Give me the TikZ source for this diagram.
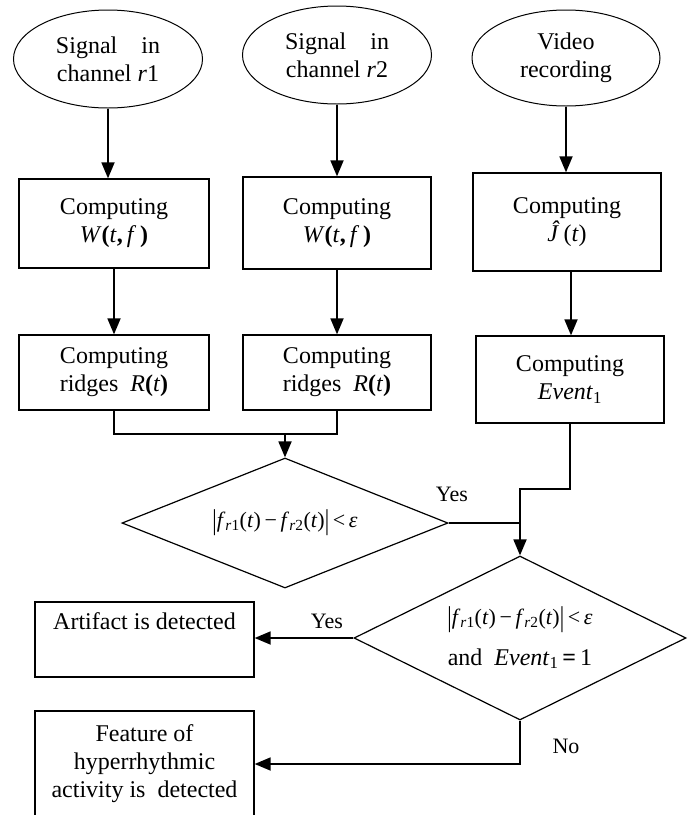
\documentclass[tikz,border=0pt]{standalone}
\usepackage{fontspec}
\usepackage{graphicx}
\setmainfont{Liberation Serif}
\usetikzlibrary{shapes.geometric,arrows.meta}

% tall absolute-value bar and f_{r#1}(t) written with text glyphs
\newcommand\tallbar{\raisebox{-0.12em}{\scalebox{1}[1.3]{\textbar}}}
\newcommand\fsig[1]{\textit{f}\textsubscript{\textit{r}#1}(\textit{t})}
\newcommand\fdiff{\tallbar\fsig{1}\,−\,\fsig{2}\tallbar\,<\,\textit{ε}}

\tikzset{
  base/.style={font=\fontsize{24}{28}\selectfont, align=center, inner sep=0pt, text=black},
  oval/.style={base, ellipse, draw, line width=1pt, minimum width=189pt, minimum height=98pt},
  procbox/.style={base, rectangle, draw, line width=1.3pt},
  decision/.style={base, diamond, draw, line width=1.2pt},
  flow/.style={line width=1.8pt, -{Triangle[length=16pt,width=13pt]}},
  link/.style={line width=1.8pt},
  lbl/.style={font=\fontsize{22}{26}\selectfont, inner sep=0pt},
}

\begin{document}
\begin{tikzpicture}[x=1pt,y=-1pt]
\useasboundingbox (0,0) rectangle (691,815);
\clip (0,0) rectangle (691,815);

% sources
\node[oval] (e1) at (108,59) {Signal\hspace{1em}in\\channel \textit{r}1};
\node[oval] (e2) at (337,55) {Signal\hspace{1em}in\\channel \textit{r}2};
\node[oval, minimum width=188pt, minimum height=96pt] (e3) at (566,58) {};
\begin{scope}
  \clip (470,10) rectangle (662,83);
  \node[base] (e3txt) at (566,58) {Video\\recording};
\end{scope}

% processing steps
\node[procbox, minimum width=190pt, minimum height=89pt] (b1) at (114,223.5)
  {Computing\\\textit{W}\textbf{(}\textit{t}\textbf{,}\,\textit{f}\,\textbf{)}};
\node[procbox, minimum width=188pt, minimum height=92pt] (b2) at (337,223)
  {Computing\\\textit{W}\textbf{(}\textit{t}\textbf{,}\,\textit{f}\,\textbf{)}};
\node[procbox, minimum width=188pt, minimum height=98pt] (b3) at (567,222)
  {Computing\\\textit{Ĵ}\,(\textit{t})};
\node[procbox, minimum width=190pt, minimum height=75pt] (r1) at (114,372.5)
  {Computing\\ridges\ \ \textit{R}\textbf{(}\textit{t}\textbf{)}};
\node[procbox, minimum width=188pt, minimum height=75pt] (r2) at (337,372.5)
  {Computing\\ridges\ \ \textit{R}\textbf{(}\textit{t}\textbf{)}};
\node[procbox, minimum width=188pt, minimum height=87pt] (ev) at (570,379.5)
  {Computing\\\textit{Event}\textsubscript{1}};

% decisions
\node[decision, minimum width=326pt, minimum height=130pt, aspect=2.5,
      font=\fontsize{22}{26}\selectfont] (d1) at (285,523) {\raisebox{5pt}{\fdiff}};
\node[decision, minimum width=332pt, minimum height=164pt, aspect=2] (d2) at (520,638)
  {{\fontsize{22}{26}\selectfont\fdiff}\\[13pt]and\ \ \textit{Event}\textsubscript{1}\,\textbf{=}\,1};

% results
\node[procbox, minimum width=219pt, minimum height=75pt] (art) at (144.5,639.5)
  {Artifact is detected\\\strut};
\node[procbox, minimum width=219pt, minimum height=106pt] (feat) at (144.5,764)
  {Feature of\\hyperrhythmic\\activity is\ \ detected};

% connectors
\draw[flow] (e1.south) -- (e1.south |- b1.north);
\draw[flow] (e2.south) -- (e2.south |- b2.north);
\draw[flow] (e3.south) -- (e3.south |- b3.north);
\draw[flow] (b1.south) -- (b1.south |- r1.north);
\draw[flow] (b2.south) -- (b2.south |- r2.north);
\draw[flow] ([xshift=4pt]b3.south) -- ([xshift=4pt]b3.south |- ev.north);

\coordinate (jn) at (285,434);
\draw[link] (r1.south) |- (jn) -| (r2.south);
\draw[flow] (jn) -- (d1.north);

\coordinate (bend) at (520,489);
\draw[flow] (ev.south) |- (bend) -- (d2.north);
\draw[link] (d1.east) -- (d1.east -| d2.north);
\draw[flow] (d2.west) -- (d2.west -| art.east);
\draw[flow] (d2.south) |- (feat.east);

% branch labels
\node[lbl] (yes1) at (452,494) {Yes};
\node[lbl] (yes2) at (327,621) {Yes};
\node[lbl] (no) at (566,746) {No};
\end{tikzpicture}
\end{document}
